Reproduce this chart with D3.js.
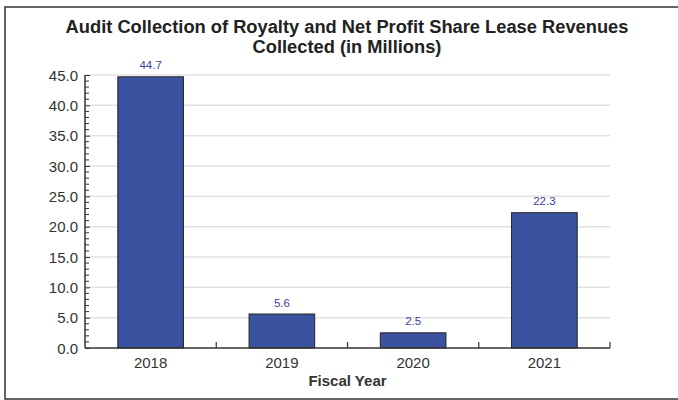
<!DOCTYPE html>
<html><head><meta charset="utf-8">
<script src="https://cdn.jsdelivr.net/npm/d3@7"></script>
<style>body{margin:0;background:#fff}svg{display:block}</style>
</head><body><svg id="c" width="678" height="400"></svg>
<script>
const years = ["2018", "2019", "2020", "2021"];
const values = [44.7, 5.6, 2.5, 22.3];
const yTicks = [0, 5, 10, 15, 20, 25, 30, 35, 40, 45];
const titleLines = ["Audit Collection of Royalty and Net Profit Share Lease Revenues", "Collected (in Millions)"];
const xTitle = "Fiscal Year";

const svg = d3.select("#c");
const font = "'Liberation Sans', Arial, sans-serif";
const L = 85, R = 610, T = 75, B = 348;

svg.append("rect").attr("x", 5).attr("y", 7).attr("width", 700).attr("height", 392)
  .attr("fill", "#fff").attr("stroke", "#333").attr("stroke-width", 1.5);

const x = d3.scaleBand().domain(years).range([L, R]).paddingInner(0).paddingOuter(0);
const y = d3.scaleLinear().domain([0, 45]).range([B, T]);

// gridlines
svg.append("g").selectAll("line").data(yTicks.filter(d => d > 0)).join("line")
  .attr("x1", L).attr("x2", R).attr("y1", d => y(d)).attr("y2", d => y(d))
  .attr("stroke", "#e2e2e2").attr("stroke-width", 1.5);

// bars
const bw = x.bandwidth() * 0.5;
svg.append("g").selectAll("rect").data(values).join("rect")
  .attr("x", (d, i) => x(years[i]) + x.bandwidth() / 2 - bw / 2)
  .attr("y", d => y(d)).attr("width", bw).attr("height", d => B - y(d))
  .attr("fill", "#3a52a0").attr("stroke", "#222").attr("stroke-width", 1);

// value labels
svg.append("g").selectAll("text").data(values).join("text")
  .attr("x", (d, i) => x(years[i]) + x.bandwidth() / 2)
  .attr("y", d => y(d) - 7.5).attr("text-anchor", "middle")
  .attr("font-family", font).attr("font-size", 11.5).attr("fill", "#3c3f9c")
  .text(d => d.toFixed(1));

// y axis
const yAxis = d3.axisRight(y).tickValues(yTicks).tickSize(5).tickFormat("");
const gy = svg.append("g").attr("transform", `translate(${L},0)`).call(yAxis);
gy.select(".domain").remove();
gy.selectAll("line").attr("stroke", "#333");
const minor = d3.range(0, 46).filter(v => v % 5 !== 0);
svg.append("g").selectAll("line").data(minor).join("line")
  .attr("x1", L).attr("x2", L + 4).attr("y1", d => y(d)).attr("y2", d => y(d))
  .attr("stroke", "#333").attr("stroke-width", 1);
svg.append("line").attr("x1", L).attr("x2", L).attr("y1", T).attr("y2", B)
  .attr("stroke", "#333").attr("stroke-width", 1.5);
svg.append("g").selectAll("text").data(yTicks).join("text")
  .attr("x", L - 7).attr("y", d => y(d) + 5.5).attr("text-anchor", "end")
  .attr("font-family", font).attr("font-size", 15).attr("fill", "#333")
  .text(d => d.toFixed(1));

// x axis
svg.append("line").attr("x1", L).attr("x2", R).attr("y1", B).attr("y2", B)
  .attr("stroke", "#333").attr("stroke-width", 1.5);
const bounds = years.map(d => x(d)).slice(1).concat([R]);
svg.append("g").selectAll("line").data(bounds).join("line")
  .attr("x1", d => d).attr("x2", d => d).attr("y1", B).attr("y2", B - 6)
  .attr("stroke", "#333").attr("stroke-width", 1.2);
svg.append("g").selectAll("text").data(years).join("text")
  .attr("x", d => x(d) + x.bandwidth() / 2).attr("y", B + 20).attr("text-anchor", "middle")
  .attr("font-family", font).attr("font-size", 15).attr("fill", "#333").text(d => d);
svg.append("text").attr("x", (L + R) / 2).attr("y", 385.5).attr("text-anchor", "middle")
  .attr("font-family", font).attr("font-size", 15).attr("font-weight", "bold").attr("fill", "#333")
  .text(xTitle);

// title
svg.append("g").selectAll("text").data(titleLines).join("text")
  .attr("x", 347).attr("y", (d, i) => 32.5 + i * 20).attr("text-anchor", "middle")
  .attr("font-family", font).attr("font-size", 18.3).attr("font-weight", "bold").attr("fill", "#222")
  .text(d => d);
</script></body></html>
